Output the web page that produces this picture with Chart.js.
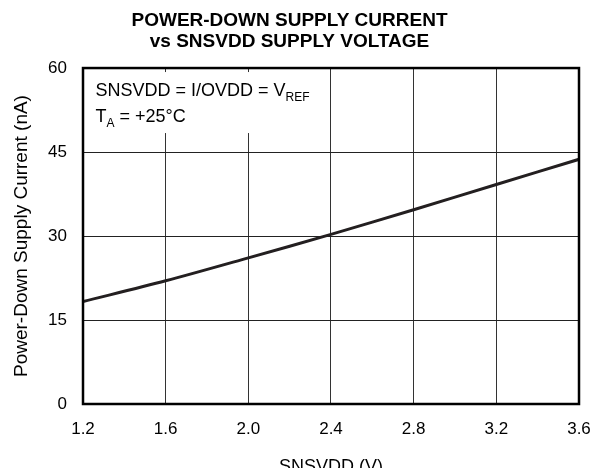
<!DOCTYPE html>
<html>
<head>
<meta charset="utf-8">
<script src="https://cdn.jsdelivr.net/npm/chart.js@4/dist/chart.umd.min.js"></script>
<style>
  html, body { margin: 0; padding: 0; background: #fff; }
  #wrap { width: 593px; height: 468px; }
</style>
</head>
<body>
<div id="wrap"><canvas id="graph1" width="593" height="468"></canvas></div>
<script>
  // values
  const voltage = [1.2, 1.6, 2.0, 2.4, 2.8, 3.2, 3.6]
  const current = [18.3, 22.0, 26.1, 30.3, 34.7, 39.2, 43.7]
  const yTicks = [0, 15, 30, 45, 60]
  const xTicks = [1.2, 1.6, 2.0, 2.4, 2.8, 3.2, 3.6]

  const FONT = "'Liberation Sans', Arial, Helvetica, sans-serif"

  // white box with the conditions text, top-left corner of the plot
  const notePlugin = {
    id: 'note',
    beforeDatasetsDraw(chart) {
      const { ctx, chartArea } = chart
      const x = chartArea.left, y = chartArea.top
      ctx.save()
      ctx.fillStyle = '#fff'
      ctx.fillRect(x + 2, y + 4, 236, 61)
      ctx.fillStyle = '#000'
      ctx.textBaseline = 'alphabetic'
      ctx.font = '18px ' + FONT
      let tx = x + 12.5
      let s = 'SNSVDD = I/OVDD = V'
      ctx.fillText(s, tx, y + 28)
      tx += ctx.measureText(s).width
      ctx.font = '12px ' + FONT
      ctx.fillText('REF', tx, y + 33)
      ctx.font = '18px ' + FONT
      tx = x + 12.5
      ctx.fillText('T', tx, y + 54)
      tx += ctx.measureText('T').width
      ctx.font = '12px ' + FONT
      ctx.fillText('A', tx, y + 59)
      tx += ctx.measureText('A').width
      ctx.font = '18px ' + FONT
      ctx.fillText(' = +25°C', tx, y + 54)
      ctx.restore()
    },
    afterDraw(chart) {
      const { ctx, chartArea } = chart
      ctx.save()
      ctx.strokeStyle = '#000'
      ctx.lineWidth = 2.5
      ctx.strokeRect(chartArea.left, chartArea.top, chartArea.right - chartArea.left, chartArea.bottom - chartArea.top)
      ctx.restore()
    }
  }

  const ctx = document.getElementById('graph1')

  new Chart(ctx, {
    type: 'line',
    data: {
      datasets: [
        {
          label: 'Power-Down Supply Current',
          data: voltage.map((v, i) => ({ x: v, y: current[i] })),
          borderColor: '#231f20',
          borderWidth: 3,
          pointRadius: 0,
          tension: 0.3,
          fill: false
        }
      ]
    },
    options: {
      responsive: false,
      animation: false,
      events: [],
      layout: { padding: { left: 0, right: 14, top: 0, bottom: 0 } },
      plugins: {
        legend: { display: false },
        tooltip: { enabled: false },
        title: {
          display: true,
          text: ['POWER-DOWN SUPPLY CURRENT', 'vs SNSVDD SUPPLY VOLTAGE'],
          color: '#000',
          font: { family: FONT, size: 19, weight: 'bold', lineHeight: 1.08 },
          padding: { top: 11, bottom: 16 }
        }
      },
      scales: {
        x: {
          type: 'linear',
          min: 1.2,
          max: 3.6,
          afterBuildTicks: axis => { axis.ticks = xTicks.map(v => ({ value: v })) },
          afterFit: axis => {
            axis.height = 64
            axis.paddingLeft = 0
            axis.paddingRight = 0
          },
          grid: { color: '#333', lineWidth: 1, drawTicks: false },
          border: { display: false },
          ticks: {
            color: '#000',
            padding: 15,
            maxRotation: 0,
            font: { family: FONT, size: 17 },
            callback: v => Number(v).toFixed(1)
          },
          title: {
            display: true,
            text: 'SNSVDD (V)',
            color: '#000',
            font: { family: FONT, size: 18 },
            padding: { top: 0, bottom: -10 }
          }
        },
        y: {
          min: 0,
          max: 60,
          afterBuildTicks: axis => { axis.ticks = yTicks.map(v => ({ value: v })) },
          afterFit: axis => {
            axis.width = 83
            axis.paddingTop = 0
            axis.paddingBottom = 0
          },
          grid: { color: '#222', lineWidth: 1, drawTicks: false },
          border: { display: false },
          ticks: {
            color: '#000',
            padding: 16,
            font: { family: FONT, size: 17 }
          },
          title: {
            display: true,
            text: 'Power-Down Supply Current (nA)',
            color: '#000',
            font: { family: FONT, size: 19 },
            padding: { top: 10, bottom: 0 }
          }
        }
      }
    },
    plugins: [notePlugin]
  })
</script>
</body>
</html>
